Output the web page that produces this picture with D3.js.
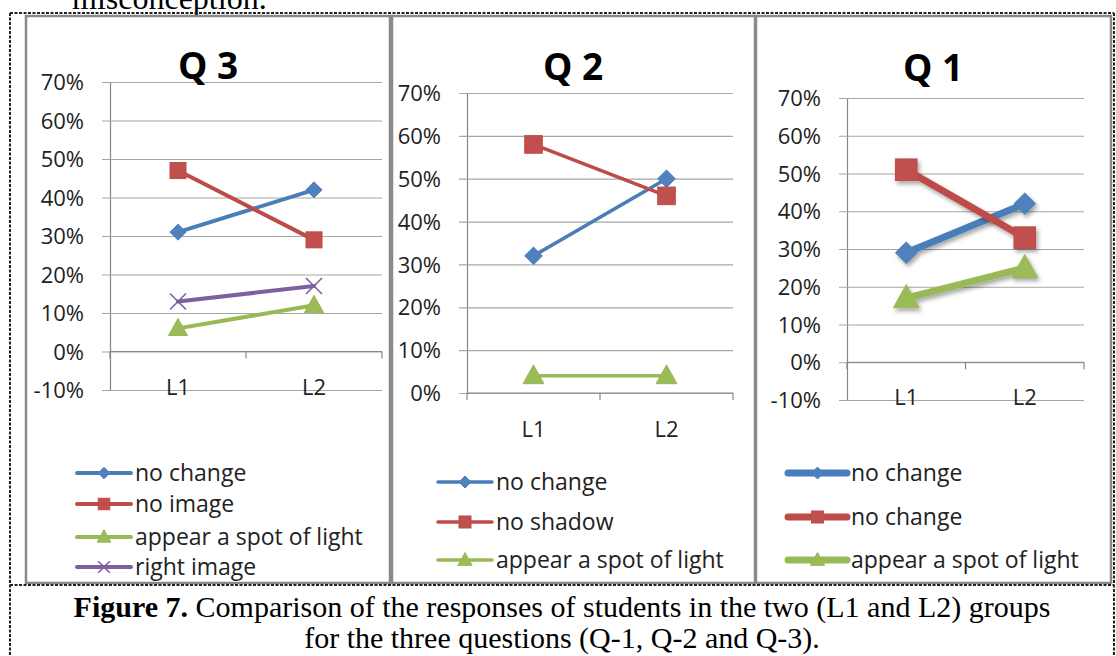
<!DOCTYPE html>
<html>
<head>
<meta charset="utf-8">
<script src="https://cdn.jsdelivr.net/npm/d3@7"></script>
<style>
  html, body { margin: 0; padding: 0; background: #fff; }
  svg { display: block; }
</style>
</head>
<body>
<svg id="chart" width="1116" height="656"></svg>
<script>
// ---------------- DATA ----------------
const categories = ["L1", "L2"];

// Q3 panel
const q3Ticks = [-10, 0, 10, 20, 30, 40, 50, 60, 70];
const q3Names = ["no change", "no image", "appear a spot of light", "right image"];
const q3NoChange = [31, 42];
const q3NoImage = [47, 29];
const q3Spot = [6, 12];
const q3Right = [13, 17];

// Q2 panel
const q2Ticks = [0, 10, 20, 30, 40, 50, 60, 70];
const q2Names = ["no change", "no shadow", "appear a spot of light"];
const q2NoChange = [32, 50];
const q2NoShadow = [58, 46];
const q2Spot = [4, 4];

// Q1 panel
const q1Ticks = [-10, 0, 10, 20, 30, 40, 50, 60, 70];
const q1Names = ["no change", "no change", "appear a spot of light"];
const q1NoChange = [29, 42];
const q1Red = [51, 33];
const q1Spot = [17, 25];

const titles = ["Q 3", "Q 2", "Q 1"];
const captionBold = "Figure 7.";
const captionRest = " Comparison of the responses of students in the two (L1 and L2) groups";
const captionLine2 = "for the three questions (Q-1, Q-2 and Q-3).";
const topText = "misconception.";

// ---------------- STYLE ----------------
const COLORS = { blue: "#4A7EBB", red: "#BE4B48", green: "#98B954", purple: "#7D60A0" };
const FILL = { blue: "#4F81BD", red: "#C0504D", green: "#9BBB59", purple: "#8064A2" };
const chartFont = "'Open Sans', 'DejaVu Sans', sans-serif";
const serifFont = "'Liberation Serif', 'DejaVu Serif', serif";

const svg = d3.select("#chart");
const defs = svg.append("defs");
const f = defs.append("filter").attr("id", "shadow").attr("x", "-50%").attr("y", "-50%").attr("width", "200%").attr("height", "200%");
f.append("feDropShadow").attr("dx", 2).attr("dy", 3).attr("stdDeviation", 2)
  .attr("flood-color", "#000").attr("flood-opacity", 0.35);

// top cut text (the reference shows only its lower part)
svg.append("text").attr("x", 72).attr("y", 9).attr("font-family", serifFont)
  .attr("font-size", 32).attr("fill", "#000").text(topText);

// ---------------- PANELS ----------------
const panels = [
  {
    box: [26, 16, 390, 583], x0: 110, x1: 382, yTop: 82, yBot: 390, ticks: q3Ticks,
    title: titles[0], titleX: 208, titleY: 79, catY: 395,
    legX0: 77, legX1: 131, legY: [473, 504, 537, 567],
    lineW: 4, legLineW: 4, mScale: 1, legMScale: 0.72, shadow: false,
    series: [
      { name: q3Names[0], values: q3NoChange, color: "blue", marker: "diamond" },
      { name: q3Names[1], values: q3NoImage, color: "red", marker: "square" },
      { name: q3Names[2], values: q3Spot, color: "green", marker: "triangle" },
      { name: q3Names[3], values: q3Right, color: "purple", marker: "x" }
    ]
  },
  {
    box: [392, 16, 755, 583], x0: 467, x1: 733, yTop: 93, yBot: 393, ticks: q2Ticks,
    title: titles[1], titleX: 573, titleY: 80, catY: 437,
    legX0: 438, legX1: 492, legY: [482, 522, 560],
    lineW: 3.5, legLineW: 3.5, mScale: 1.1, legMScale: 0.75, shadow: false,
    series: [
      { name: q2Names[0], values: q2NoChange, color: "blue", marker: "diamond" },
      { name: q2Names[1], values: q2NoShadow, color: "red", marker: "square" },
      { name: q2Names[2], values: q2Spot, color: "green", marker: "triangle" }
    ]
  },
  {
    box: [756, 16, 1111, 583], x0: 847, x1: 1084, yTop: 98, yBot: 400, ticks: q1Ticks,
    title: titles[2], titleX: 933, titleY: 81, catY: 405,
    legX0: 788, legX1: 847, legY: [473, 517, 560],
    lineW: 7, legLineW: 7, mScale: 1.35, legMScale: 0.75, shadow: true,
    series: [
      { name: q1Names[0], values: q1NoChange, color: "blue", marker: "diamond" },
      { name: q1Names[1], values: q1Red, color: "red", marker: "square" },
      { name: q1Names[2], values: q1Spot, color: "green", marker: "triangle" }
    ]
  }
];

function drawMarker(g, type, cx, cy, s, colorKey) {
  const fill = FILL[colorKey], stroke = COLORS[colorKey];
  if (type === "diamond") {
    const r = 8 * s;
    g.append("path").attr("d", `M${cx},${cy - r}L${cx + r},${cy}L${cx},${cy + r}L${cx - r},${cy}Z`)
      .attr("fill", fill).attr("stroke", stroke).attr("stroke-width", 1);
  } else if (type === "square") {
    const r = 8 * s;
    g.append("rect").attr("x", cx - r).attr("y", cy - r).attr("width", 2 * r).attr("height", 2 * r)
      .attr("fill", fill).attr("stroke", stroke).attr("stroke-width", 1);
  } else if (type === "triangle") {
    const r = 9.5 * s;
    g.append("path").attr("d", `M${cx},${cy - r * 1.05}L${cx + r},${cy + r * 0.75}L${cx - r},${cy + r * 0.75}Z`)
      .attr("fill", fill).attr("stroke", stroke).attr("stroke-width", 1);
  } else if (type === "x") {
    const r = 8 * s;
    g.append("path").attr("d", `M${cx - r},${cy - r}L${cx + r},${cy + r}M${cx - r},${cy + r}L${cx + r},${cy - r}`)
      .attr("fill", "none").attr("stroke", stroke).attr("stroke-width", 1.6);
  }
}

panels.forEach(p => {
  const g = svg.append("g");
  // panel border
  g.append("rect").attr("x", p.box[0]).attr("y", p.box[1])
    .attr("width", p.box[2] - p.box[0]).attr("height", p.box[3] - p.box[1])
    .attr("fill", "#fff").attr("stroke", "#8a8a8a").attr("stroke-width", 2.5);

  const y = d3.scaleLinear().domain([p.ticks[0], p.ticks[p.ticks.length - 1]]).range([p.yBot, p.yTop]);
  const x = d3.scaleBand().domain(categories).range([p.x0, p.x1]);
  const cx = c => x(c) + x.bandwidth() / 2;

  // y axis with gridlines
  const yAxis = d3.axisLeft(y).tickValues(p.ticks).tickSizeOuter(0).tickPadding(0)
    .tickFormat(d => d + "%");
  const ya = g.append("g").attr("transform", `translate(${p.x0},0)`).call(yAxis);
  ya.select(".domain").attr("stroke", "#868686").attr("stroke-width", 1.2);
  ya.selectAll(".tick line").attr("x1", -8).attr("x2", p.x1 - p.x0)
    .attr("stroke", "#a6a6a6").attr("stroke-width", 1.2);
  ya.selectAll(".tick text").attr("x", -26).attr("dy", "0.35em")
    .attr("font-family", chartFont).attr("font-size", 22).attr("fill", "#222");

  // x axis at zero
  const y0 = y(0);
  g.append("line").attr("x1", p.x0).attr("x2", p.x1).attr("y1", y0).attr("y2", y0)
    .attr("stroke", "#868686").attr("stroke-width", 1.2);
  const bounds = [p.x0, p.x0 + x.bandwidth(), p.x1];
  g.selectAll(".xt").data(bounds).enter().append("line")
    .attr("x1", d => d).attr("x2", d => d).attr("y1", y0).attr("y2", y0 + 7)
    .attr("stroke", "#868686").attr("stroke-width", 1.2);
  g.selectAll(".xl").data(categories).enter().append("text")
    .attr("x", d => cx(d)).attr("y", p.catY).attr("text-anchor", "middle")
    .attr("font-family", chartFont).attr("font-size", 22).attr("fill", "#222").text(d => d);

  // title
  g.append("text").attr("x", p.titleX).attr("y", p.titleY).attr("text-anchor", "middle")
    .attr("font-family", chartFont).attr("font-weight", "bold").attr("font-size", 37)
    .attr("fill", "#000").text(p.title);

  // series
  const line = d3.line().x((d, i) => cx(categories[i])).y(d => y(d));
  p.series.forEach(s => {
    const sg = g.append("g");
    if (p.shadow) sg.attr("filter", "url(#shadow)");
    sg.append("path").attr("d", line(s.values)).attr("fill", "none")
      .attr("stroke", COLORS[s.color]).attr("stroke-width", p.lineW).attr("stroke-linecap", "round");
    s.values.forEach((v, i) => drawMarker(sg, s.marker, cx(categories[i]), y(v), p.mScale, s.color));
  });

  // legend
  p.series.forEach((s, i) => {
    const ly = p.legY[i];
    const lg = g.append("g");
    lg.append("line").attr("x1", p.legX0).attr("x2", p.legX1).attr("y1", ly).attr("y2", ly)
      .attr("stroke", COLORS[s.color]).attr("stroke-width", p.legLineW).attr("stroke-linecap", "round");
    drawMarker(lg, s.marker, (p.legX0 + p.legX1) / 2, ly, p.legMScale, s.color);
    lg.append("text").attr("x", p.legX1 + 4).attr("y", ly).attr("dy", "0.35em")
      .attr("font-family", chartFont).attr("font-size", 23).attr("fill", "#222").text(s.name);
  });
});

// ---------------- DASHED FRAME ----------------
const dash = { stroke: "#222", "stroke-width": 2, "stroke-dasharray": "3,1.5", fill: "none" };
function dline(x1, y1, x2, y2) {
  const l = svg.append("line").attr("x1", x1).attr("y1", y1).attr("x2", x2).attr("y2", y2);
  Object.entries(dash).forEach(([k, v]) => l.attr(k, v));
}
dline(10, 13, 1114, 13);
dline(10, 585, 1114, 585);
dline(10, 13, 10, 656);
dline(1114, 13, 1114, 656);

// ---------------- CAPTION ----------------
const cap = svg.append("text").attr("x", 562).attr("y", 617).attr("text-anchor", "middle")
  .attr("font-family", serifFont).attr("font-size", 30).attr("fill", "#000");
cap.append("tspan").attr("font-weight", "bold").text(captionBold);
cap.append("tspan").text(captionRest);
svg.append("text").attr("x", 562).attr("y", 648).attr("text-anchor", "middle")
  .attr("font-family", serifFont).attr("font-size", 30).attr("fill", "#000").text(captionLine2);
</script>
</body>
</html>
